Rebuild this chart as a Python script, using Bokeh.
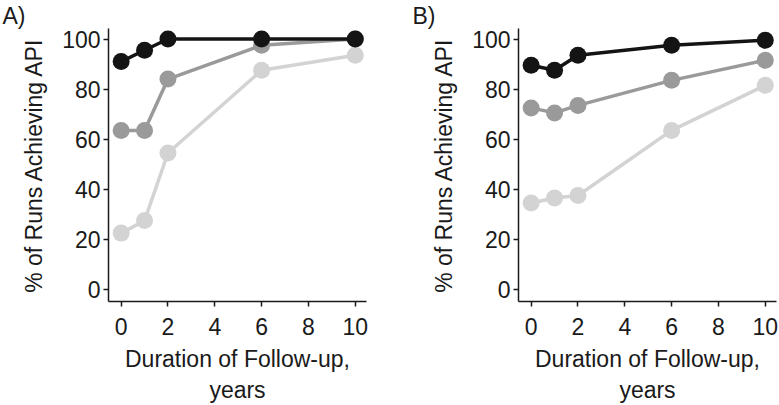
from bokeh.plotting import figure
from bokeh.layouts import row
from bokeh.models import FixedTicker
from bokeh.embed import file_html
from bokeh.resources import INLINE

years = [0, 1, 2, 6, 10]

a_black = [91, 95.5, 100, 100, 100]
a_gray = [63.5, 63.5, 84, 97.5, 100]
a_light = [22.5, 27.5, 54.5, 87.5, 93.5]

b_black = [89.5, 87.5, 93.5, 97.5, 99.5]
b_gray = [72.5, 70.5, 73.5, 83.5, 91.5]
b_light = [34.5, 36.5, 37.5, 63.5, 81.5]

x_ticks = [0, 2, 4, 6, 8, 10]
y_ticks = [0, 20, 40, 60, 80, 100]

colors = ["#141414", "#9a9a9a", "#d3d3d3"]
FONT = "Liberation Sans"
FS = "23px"


def make_panel(tag, series, width):
    p = figure(width=width, height=405, output_backend="svg", toolbar_location=None,
               x_range=(-0.54, 10.48), y_range=(-4.8, 104.2),
               min_border_left=108, min_border_right=width - 108 - 258,
               min_border_top=0, min_border_bottom=100,
               title=tag)
    p.title.text_font = FONT
    p.title.text_font_size = FS
    p.title.text_font_style = "normal"
    p.title.text_color = "#1a1a1a"
    p.title.align = "left"
    p.title.offset = -106
    p.title.standoff = 0
    p.outline_line_color = None
    p.grid.visible = False
    p.background_fill_color = "white"
    p.border_fill_color = "white"
    for vals, c in zip(series[::-1], colors[::-1]):
        p.line(years, vals, line_color=c, line_width=3.5)
        p.scatter(years, vals, size=17, fill_color=c, line_color=c, line_width=0)
    for ax in (p.xaxis[0], p.yaxis[0]):
        ax.axis_line_color = "#1a1a1a"
        ax.axis_line_width = 1.5
        ax.major_tick_line_color = "#1a1a1a"
        ax.major_tick_line_width = 1.5
        ax.major_tick_in = 0
        ax.major_tick_out = 5
        ax.minor_tick_line_color = None
        ax.major_label_text_font = FONT
        ax.major_label_text_font_size = FS
        ax.major_label_text_color = "#1a1a1a"
        ax.axis_label_text_font = FONT
        ax.axis_label_text_font_size = FS
        ax.axis_label_text_font_style = "normal"
        ax.axis_label_text_color = "#1a1a1a"
    p.xaxis.ticker = FixedTicker(ticks=x_ticks)
    p.yaxis.ticker = FixedTicker(ticks=y_ticks)
    p.xaxis.axis_label = "Duration of Follow-up,\nyears"
    p.yaxis.axis_label = "% of Runs Achieving API"
    p.xaxis.major_label_standoff = 11
    p.yaxis.major_label_standoff = 3
    p.xaxis.axis_label_standoff = 8
    p.yaxis.axis_label_standoff = 12
    return p


pa = make_panel("A)", [a_black, a_gray, a_light], 410)
pb = make_panel("B)", [b_black, b_gray, b_light], 369)

layout = row(pa, pb)
open("out.html", "w").write(file_html(layout, INLINE))
